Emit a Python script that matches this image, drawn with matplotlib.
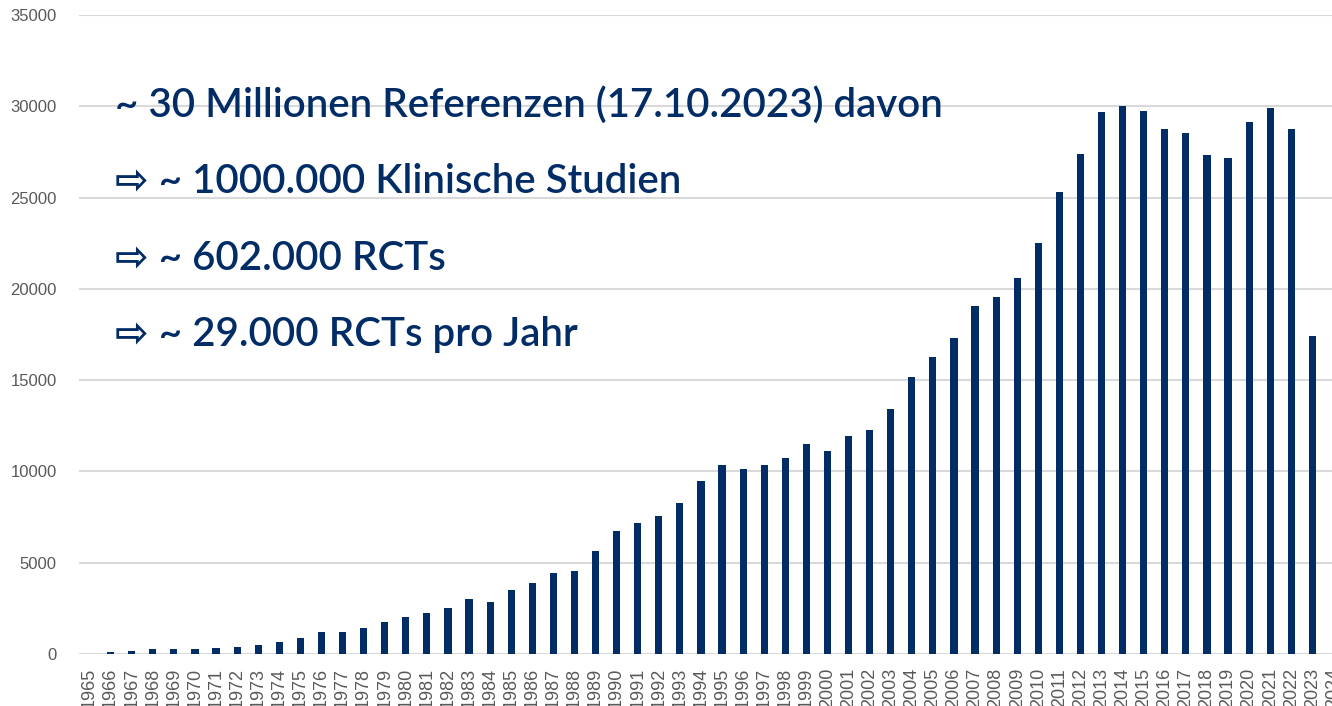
import numpy as np
import matplotlib.pyplot as plt

years = list(range(1965, 2025))
counts = [0, 130, 185, 255, 260, 300, 350, 410, 520, 630,
          890, 1220, 1220, 1440, 1780, 2040, 2260, 2520, 3020, 2850,
          3520, 3890, 4440, 4560, 5650, 6740, 7170, 7560, 8270, 9470,
          10350, 10130, 10350, 10730, 11500, 11120, 11940, 12270, 13420, 15150,
          16270, 17290, 19070, 19560, 20620, 22510, 25290, 27400, 29710, 30040,
          29760, 28730, 28560, 27330, 27180, 29160, 29930, 28730, 17400, 0]
notes = ["~ 30 Millionen Referenzen (17.10.2023) davon",
         "\u21e8 ~ 1000.000 Klinische Studien",
         "\u21e8 ~ 602.000 RCTs",
         "\u21e8 ~ 29.000 RCTs pro Jahr"]

navy = "#022c65"
W, H = 1332, 706
fig = plt.figure(figsize=(W / 100, H / 100), dpi=100)
ax = fig.add_axes([79 / W, 52 / H, 1265 / W, 639 / H])

x = np.arange(len(years))
ax.bar(x, counts, width=0.34, color=navy, zorder=3)
ax.set_xlim(-0.5, len(years) - 0.5)
ax.set_ylim(0, 35000)
ax.set_yticks(range(0, 35001, 5000))
ax.set_xticks(x)
ax.set_xticklabels([str(y) for y in years], rotation=90, va="top")
ax.tick_params(length=0, colors="#595959")
ax.tick_params(axis="y", pad=16, labelsize=12)
ax.tick_params(axis="x", pad=10, labelsize=13)
for lab in ax.get_xticklabels() + ax.get_yticklabels():
    lab.set_family("Liberation Sans")
ax.grid(axis="y", color="#d9d9d9", linewidth=1.5, zorder=0)
for s in ax.spines.values():
    s.set_visible(False)

baselines = [117, 193, 270, 346]
for txt, b in zip(notes, baselines):
    fig.text(115 / W, 1 - b / H, txt, color=navy, fontsize=29, fontweight="semibold",
             family=["Lato", "DejaVu Sans"], va="baseline", ha="left")

fig.savefig("out.png", dpi=100)
